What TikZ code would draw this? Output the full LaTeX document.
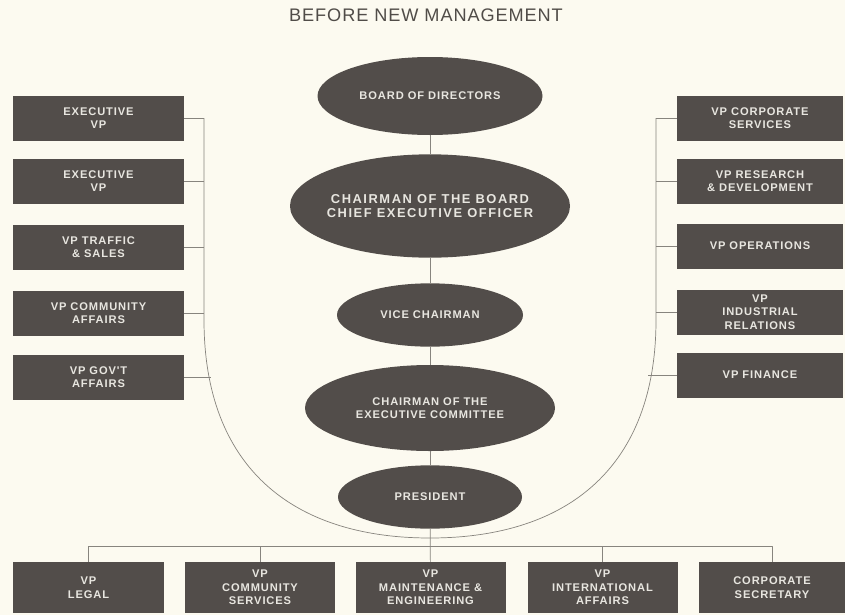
\documentclass[tikz,border=0pt]{standalone}
\usepackage{fontspec}
\newfontfamily\orgfont[LetterSpace=8]{Liberation Sans}
\newfontfamily\chairfont[LetterSpace=12]{Liberation Sans}
\newfontfamily\titlefont[LetterSpace=5]{Liberation Sans}
\usetikzlibrary{shapes.geometric}

\definecolor{paper}{RGB}{252,250,240}
\definecolor{boxgray}{RGB}{82,77,74}
\definecolor{boxtext}{RGB}{232,230,224}
\definecolor{linegray}{RGB}{135,132,126}
\definecolor{titlegray}{RGB}{80,76,72}

\tikzset{
    orgbox/.style={draw=none, fill=boxgray, text=boxtext, align=center, inner sep=0pt,
        font=\orgfont\bfseries\fontsize{9.5}{11.5}\selectfont},
    sidebox/.style={orgbox, minimum width=51.3mm, minimum height=13.5mm},
    basebox/.style={orgbox, minimum width=45mm, minimum height=15.3mm},
    oval/.style={orgbox, ellipse, inner sep=-10mm},
    link/.style={draw=linegray, line width=0.6pt},
}

\begin{document}
\begin{tikzpicture}[x=0.3mm, y=-0.3mm, line join=round]

    % Paper
    \fill[paper] (0,0) rectangle (845,615);
    \useasboundingbox (0,0) rectangle (845,615);

    \node[font=\titlefont\fontsize{15.5}{18}\selectfont, text=titlegray] (title) at (426,15) {BEFORE NEW MANAGEMENT};

    % Central chain
    \node[oval, minimum width=67.5mm, minimum height=23.4mm] (board) at (430,96) {BOARD OF DIRECTORS};
    \node[oval, minimum width=84mm, minimum height=31mm,
        font=\chairfont\bfseries\fontsize{11}{12.6}\selectfont] (chair) at (430,206) {CHAIRMAN OF THE BOARD\\CHIEF EXECUTIVE OFFICER};
    \node[oval, minimum width=55.8mm, minimum height=19mm] (vice) at (430,315) {VICE CHAIRMAN};
    \node[oval, minimum width=75mm, minimum height=25.8mm] (exec) at (430,408) {CHAIRMAN OF THE\\EXECUTIVE COMMITTEE};
    \node[oval, minimum width=55.2mm, minimum height=19mm] (pres) at (430,497) {PRESIDENT};

    \draw[link] (board) -- (chair);
    \draw[link] (chair) -- (vice);
    \draw[link] (vice) -- (exec);
    \draw[link] (exec) -- (pres);

    % Left column
    \foreach \nm/\yy/\lbl in {evpa/118/{EXECUTIVE\\VP}, evpb/181/{EXECUTIVE\\VP},
        vptraf/247/{VP TRAFFIC\\\& SALES}, vpcomm/313/{VP COMMUNITY\\AFFAIRS}, vpgov/377/{VP GOV'T\\AFFAIRS}} {
        \node[sidebox] (\nm) at (98.5,\yy) {\lbl};
    }

    % Right column
    \foreach \nm/\yy/\lbl in {vpcorp/118/{VP CORPORATE\\SERVICES}, vpresd/181/{VP RESEARCH\\\& DEVELOPMENT},
        vpops/246/{VP OPERATIONS}, vpind/312/{VP\\INDUSTRIAL\\RELATIONS}, vpfin/375/{VP FINANCE}} {
        \node[sidebox, minimum width=49.8mm] (\nm) at (760,\yy) {\lbl};
    }

    % Staff line round the chain
    \coordinate (spineL) at (204,118);
    \coordinate (spineR) at (656,118);
    \draw[link] (spineL) -- (204,320) .. controls (204,465) and (290,538) .. (430,538)
        .. controls (570,538) and (656,465) .. (656,320) -- (spineR);

    \foreach \nm in {evpa, evpb, vptraf, vpcomm} {
        \draw[link] (\nm.east) -- (\nm.east -| spineL);
    }
    \draw[link] (vpgov.east) -- ++(27,0);
    \foreach \nm in {vpcorp, vpresd, vpops, vpind} {
        \draw[link] (\nm.west) -- (\nm.west -| spineR);
    }
    \draw[link] (vpfin.west) -- ++(-29,0);

    % Bottom row
    \node[basebox] (legal) at (88.5,587.5) {VP\\LEGAL};
    \node[basebox] (comsvc) at (260,587.5) {VP\\COMMUNITY\\SERVICES};
    \node[basebox] (maint) at (430.5,587.5) {VP\\MAINTENANCE \&\\ENGINEERING};
    \node[basebox] (intl) at (602.5,587.5) {VP\\INTERNATIONAL\\AFFAIRS};
    \node[basebox, minimum width=44mm] (corpsec) at (772,587.5) {CORPORATE\\SECRETARY};

    \draw[link] (legal.north) -- ++(0,-15) -| (corpsec.north);
    \draw[link] (comsvc.north) -- ++(0,-15);
    \draw[link] (intl.north) -- ++(0,-15);
    \draw[link] (pres) -- (maint);
\end{tikzpicture}
\end{document}
